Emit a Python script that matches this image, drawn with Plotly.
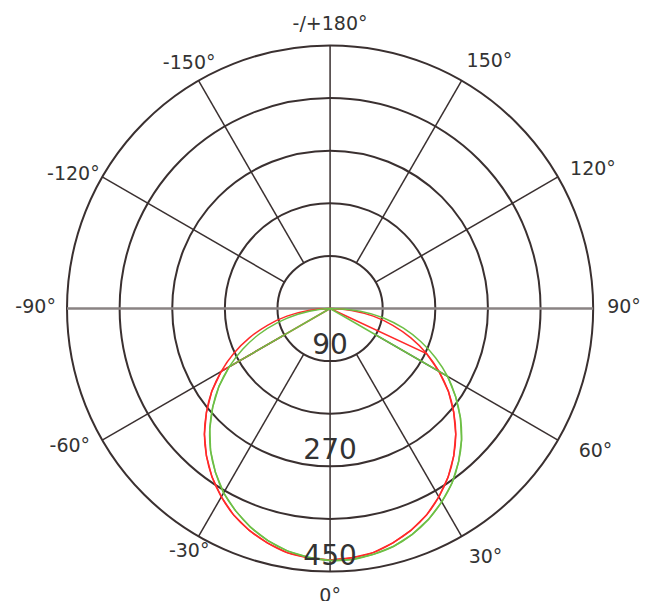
import plotly.graph_objects as go

# ---- data ----
theta_deg = list(range(-90, 91, 5))  # measurement angles (deg), 0 = straight down

red_c0 = [0, 37, 75, 111, 147, 182, 215, 247, 276, 304, 329, 352, 372, 390, 404, 415, 424, 428,
          430,
          428, 424, 415, 404, 390, 372, 352, 329, 304, 276, 247, 215, 182, 147, 111, 75, 37, 0]
red_c90 = [0, 0, 0, 0, 0, 0, 215, 247, 276, 304, 329, 352, 372, 390, 404, 415, 424, 428,
           430,
           428, 424, 415, 404, 390, 372, 352, 329, 304, 276, 247, 215, 182, 0, 0, 0, 0, 0]
green_c0 = [0, 19, 56, 93, 130, 165, 199, 232, 262, 291, 318, 342, 364, 382, 398, 411, 421, 427,
            431,
            431, 427, 421, 411, 398, 382, 364, 342, 318, 291, 262, 232, 199, 165, 130, 93, 52, 0]
green_c90 = [0, 0, 0, 0, 0, 0, 199, 232, 262, 291, 318, 342, 364, 382, 398, 411, 421, 427,
             431,
             431, 427, 421, 411, 398, 382, 364, 342, 318, 291, 262, 232, 0, 0, 0, 0, 0, 0]

angle_ticks = [0, 30, 60, 90, 120, 150, 180, 210, 240, 270, 300, 330]
angle_labels = ["0°", "30°", "60°", "90°", "120°", "150°", "-/+180°",
                "-150°", "-120°", "-90°", "-60°", "-30°"]
ring_values = [90, 180, 270, 360, 450]
ring_labels = ["90", "270", "450"]
ring_label_values = [90, 270, 450]
radial_max = 514  # axis extends a little past the outer ring to hold the angle labels

GRID = "#3a3030"
RED = "#ff2a2a"
GREEN = "#6dbf45"
FONT = "DejaVu Sans"

# placement (radius, textposition) of each angle label
LABEL_PLACE = {
    0: (477, "bottom center"),
    30: (474, "bottom right"),
    60: (491, "middle right"),
    90: (474, "middle right"),
    120: (474, "middle right"),
    150: (467, "top right"),
    180: (469, "top center"),
    210: (482, "middle center"),
    240: (455, "middle left"),
    270: (469, "middle left"),
    300: (474, "middle left"),
    330: (482, "middle center"),
}

fig = go.Figure()

# spokes (start at the first ring), main axes through the centre
spoke_theta, spoke_r = [], []
for a in angle_ticks:
    if a % 90 != 0:
        spoke_theta += [a, a, None]
        spoke_r += [ring_values[0], ring_values[-1], None]
fig.add_trace(go.Scatterpolar(theta=spoke_theta, r=spoke_r, mode="lines",
                              line=dict(color=GRID, width=1.5), hoverinfo="skip"))
fig.add_trace(go.Scatterpolar(theta=[180, 0, 0], r=[ring_values[-1], 0, ring_values[-1]],
                              mode="lines", line=dict(color=GRID, width=1.5), hoverinfo="skip"))
fig.add_trace(go.Scatterpolar(theta=[270, 0, 90], r=[ring_values[-1], 0, ring_values[-1]],
                              mode="lines", line=dict(color="#8a8383", width=2.5), hoverinfo="skip"))

# curves
for vals, col, shape in [(red_c0, RED, "spline"), (red_c90, RED, "linear"),
                         (green_c0, GREEN, "spline"), (green_c90, GREEN, "linear")]:
    fig.add_trace(go.Scatterpolar(theta=theta_deg, r=vals, mode="lines",
                                  line=dict(color=col, width=1.5, shape=shape)))

# ring value labels
fig.add_trace(go.Scatterpolar(theta=[0] * len(ring_label_values), r=ring_label_values,
                              mode="text", text=ring_labels, textposition="top center",
                              textfont=dict(family=FONT, size=28, color="#333333")))

# angle labels just outside the outer ring
places = [LABEL_PLACE[a] for a in angle_ticks]
fig.add_trace(go.Scatterpolar(theta=angle_ticks, r=[p[0] for p in places],
                              mode="text", text=angle_labels,
                              textposition=[p[1] for p in places],
                              cliponaxis=False,
                              textfont=dict(family=FONT, size=19, color="#333333")))

fig.update_layout(
    width=652, height=601,
    margin=dict(l=0, r=0, t=0, b=0),
    paper_bgcolor="white",
    showlegend=False,
    polar=dict(
        domain=dict(x=[0.033, 0.955], y=[0, 1]),
        bgcolor="white",
        angularaxis=dict(
            rotation=-90, direction="counterclockwise",
            tickmode="array", tickvals=angle_ticks,
            showticklabels=False, showgrid=False, ticks="", showline=False,
        ),
        radialaxis=dict(
            range=[0, radial_max], tickmode="array", tickvals=ring_values,
            showticklabels=False, ticks="", showline=False,
            showgrid=True, gridcolor=GRID, gridwidth=1.5,
        ),
    ),
)

fig.write_html("out.html")
